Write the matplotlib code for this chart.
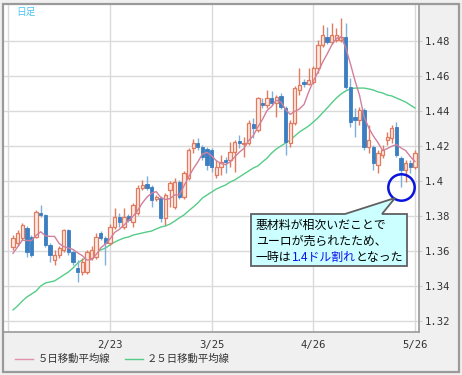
import numpy as np
import matplotlib
matplotlib.use('Agg')
import matplotlib.pyplot as plt
import matplotlib.transforms as mtransforms
from matplotlib.patches import Polygon, Rectangle
from matplotlib.lines import Line2D

W, H = 462, 375
JP = ['Noto Sans CJK JP', 'DejaVu Sans']
MONO = 'DejaVu Sans Mono'

# daily EUR/USD candles
open_ = [1.3623, 1.3646, 1.3674, 1.3731, 1.3680, 1.3680, 1.3817, 1.3806, 1.3634, 1.3549,
         1.3577, 1.3606, 1.3720, 1.3594, 1.3503, 1.3480, 1.3480, 1.3560, 1.3566, 1.3703,
         1.3674, 1.3646, 1.3737, 1.3794, 1.3737, 1.3800, 1.3766, 1.3817, 1.3960, 1.3983,
         1.3966, 1.3897, 1.3903, 1.3789, 1.3949, 1.3851, 1.3994, 1.3909, 1.4017, 1.4189,
         1.4217, 1.4194, 1.4183, 1.4177, 1.4034, 1.4080, 1.4120, 1.4120, 1.4166, 1.4229,
         1.4211, 1.4217, 1.4326, 1.4291, 1.4446, 1.4434, 1.4474, 1.4446, 1.4486, 1.4417,
         1.4217, 1.4331, 1.4520, 1.4566, 1.4554, 1.4566, 1.4646, 1.4777, 1.4823, 1.4794,
         1.4806, 1.4806, 1.4823, 1.4537, 1.4366, 1.4349, 1.4406, 1.4194, 1.4194, 1.4091,
         1.4149, 1.4234, 1.4246, 1.4309, 1.4131, 1.4063, 1.4103, 1.4080]
close = [1.3674, 1.3703, 1.3749, 1.3594, 1.3577, 1.3823, 1.3806, 1.3634, 1.3577, 1.3577,
         1.3617, 1.3720, 1.3594, 1.3537, 1.3480, 1.3537, 1.3594, 1.3606, 1.3680, 1.3674,
         1.3646, 1.3737, 1.3794, 1.3766, 1.3794, 1.3777, 1.3863, 1.3960, 1.3977, 1.3960,
         1.3891, 1.3909, 1.3789, 1.3920, 1.3989, 1.3994, 1.3909, 1.4046, 1.4177, 1.4217,
         1.4194, 1.4137, 1.4091, 1.4080, 1.4080, 1.4109, 1.4109, 1.4166, 1.4223, 1.4217,
         1.4217, 1.4331, 1.4303, 1.4474, 1.4434, 1.4474, 1.4446, 1.4480, 1.4423, 1.4223,
         1.4331, 1.4531, 1.4549, 1.4554, 1.4577, 1.4646, 1.4777, 1.4834, 1.4794, 1.4834,
         1.4834, 1.4823, 1.4537, 1.4337, 1.4349, 1.4406, 1.4194, 1.4234, 1.4103, 1.4160,
         1.4177, 1.4251, 1.4303, 1.4149, 1.4063, 1.4103, 1.4080, 1.4160]
high = [1.3691, 1.3720, 1.3760, 1.3743, 1.3691, 1.3834, 1.3863, 1.3811, 1.3646, 1.3606,
        1.3629, 1.3726, 1.3726, 1.3606, 1.3549, 1.3560, 1.3606, 1.3629, 1.3703, 1.3714,
        1.3686, 1.3754, 1.3846, 1.3817, 1.3846, 1.3811, 1.3874, 1.3977, 1.4006, 1.4029,
        1.3977, 1.3920, 1.3914, 1.3931, 1.4000, 1.4017, 1.4006, 1.4057, 1.4189, 1.4240,
        1.4246, 1.4206, 1.4194, 1.4189, 1.4120, 1.4149, 1.4137, 1.4223, 1.4234, 1.4263,
        1.4251, 1.4349, 1.4360, 1.4480, 1.4474, 1.4520, 1.4514, 1.4491, 1.4503, 1.4429,
        1.4349, 1.4543, 1.4646, 1.4583, 1.4646, 1.4657, 1.4806, 1.4891, 1.4880, 1.4903,
        1.4874, 1.4931, 1.4903, 1.4589, 1.4417, 1.4423, 1.4417, 1.4320, 1.4206, 1.4177,
        1.4206, 1.4280, 1.4320, 1.4337, 1.4143, 1.4120, 1.4120, 1.4177]
low = [1.3606, 1.3629, 1.3663, 1.3566, 1.3566, 1.3674, 1.3794, 1.3623, 1.3537, 1.3520,
       1.3560, 1.3594, 1.3577, 1.3520, 1.3423, 1.3463, 1.3469, 1.3549, 1.3554, 1.3663,
       1.3520, 1.3634, 1.3726, 1.3737, 1.3726, 1.3766, 1.3737, 1.3806, 1.3949, 1.3949,
       1.3851, 1.3886, 1.3766, 1.3749, 1.3851, 1.3840, 1.3897, 1.3897, 1.4006, 1.4160,
       1.4177, 1.4120, 1.4063, 1.4051, 1.4017, 1.4034, 1.4046, 1.4080, 1.4051, 1.4189,
       1.4137, 1.4206, 1.4246, 1.4280, 1.4417, 1.4417, 1.4434, 1.4366, 1.4411, 1.4149,
       1.4194, 1.4320, 1.4491, 1.4537, 1.4549, 1.4554, 1.4617, 1.4766, 1.4783, 1.4783,
       1.4794, 1.4794, 1.4526, 1.4309, 1.4251, 1.4320, 1.4177, 1.4160, 1.4063, 1.4046,
       1.4131, 1.4206, 1.4217, 1.4137, 1.3966, 1.3994, 1.4046, 1.4069]
# closes just before the window (needed for the first 5-day averages)
pre_close = [1.352, 1.356, 1.360, 1.358]
# 25-day moving average
ma25 = [1.3263, 1.3286, 1.3314, 1.3337, 1.3354, 1.3371, 1.3400, 1.3417, 1.3423, 1.3429,
        1.3446, 1.3463, 1.3480, 1.3503, 1.3531, 1.3549, 1.3566, 1.3577, 1.3594, 1.3606,
        1.3617, 1.3634, 1.3651, 1.3663, 1.3674, 1.3680, 1.3691, 1.3697, 1.3703, 1.3709,
        1.3714, 1.3726, 1.3737, 1.3743, 1.3754, 1.3771, 1.3789, 1.3806, 1.3829, 1.3851,
        1.3874, 1.3903, 1.3920, 1.3937, 1.3954, 1.3966, 1.3977, 1.3994, 1.4006, 1.4023,
        1.4040, 1.4057, 1.4074, 1.4086, 1.4109, 1.4131, 1.4160, 1.4183, 1.4200, 1.4217,
        1.4234, 1.4257, 1.4280, 1.4297, 1.4314, 1.4337, 1.4360, 1.4389, 1.4417, 1.4446,
        1.4474, 1.4497, 1.4514, 1.4526, 1.4531, 1.4531, 1.4531, 1.4526, 1.4520, 1.4509,
        1.4503, 1.4491, 1.4486, 1.4474, 1.4463, 1.4451, 1.4434, 1.4417]

date_pos = [21, 43, 65, 87]
date_labels = ['2/23', '3/25', '4/26', '5/26']
yticks = [1.32, 1.34, 1.36, 1.38, 1.40, 1.42, 1.44, 1.46, 1.48]
ylabels = ['1.32', '1.34', '1.36', '1.38', '1.4', '1.42', '1.44', '1.46', '1.48']
low_idx = 84  # the dip below 1.40

o = np.array(open_)
c = np.array(close)
hi = np.array(high)
lo = np.array(low)
x = np.arange(len(c))
up = c >= o
ma5 = np.convolve(np.r_[pre_close, c], np.ones(5) / 5, mode='valid')

UP_EDGE = '#e27a5e'
UP_FILL = '#fde9e2'
DN = '#3b7fc2'
DN_WICK = '#7fb0dc'

fig = plt.figure(figsize=(W / 100, H / 100), dpi=100, facecolor='#f0f0f0')
px = mtransforms.Affine2D().scale(1 / W, -1 / H).translate(0, 1) + fig.transFigure

ax = fig.add_axes([3 / W, 1 - 332 / H, 416 / W, 328 / H])
ax.set_facecolor('white')
ax.set_xlim(-2.16, 87.88)
ax.set_ylim(1.31371, 1.50114)

# grid
for yv in yticks:
    ax.axhline(yv, color='#dadada', lw=1, zorder=0)
for xv in [-1] + date_pos:
    ax.axvline(xv, color='#dadada', lw=1, zorder=0)

# moving averages
ax.plot(x, ma25, color='#55cc88', lw=1, zorder=1)

# wicks
ax.vlines(x[up], lo[up], hi[up], color=UP_EDGE, lw=1, zorder=2)
ax.vlines(x[~up], lo[~up], hi[~up], color=DN_WICK, lw=1, zorder=2)

# bodies
body_lo = np.minimum(o, c)
body_h = np.maximum(np.abs(c - o), 0.0004)
ax.bar(x[up], body_h[up], bottom=body_lo[up], width=0.72,
       color=UP_FILL, edgecolor=UP_EDGE, lw=0.9, zorder=3)
ax.bar(x[~up], body_h[~up], bottom=body_lo[~up], width=0.72,
       color=DN, edgecolor=DN, lw=0.6, zorder=3)

ax.plot(x, ma5, color='#d27f9c', lw=1, zorder=4)

# circle round the low
ax.plot(low_idx, lo[low_idx], 'o', ms=19, mfc='none', mec='#0a14dc', mew=1.8, zorder=6,
        clip_on=False)

for s in ['top', 'left']:
    ax.spines[s].set_visible(False)
for s in ['right', 'bottom']:
    ax.spines[s].set_color('#9a9a9a')
    ax.spines[s].set_linewidth(1.2)

ax.set_xticks(date_pos)
ax.set_xticklabels(date_labels, fontfamily=MONO, fontsize=7.6, color='#333333')
ax.yaxis.tick_right()
ax.set_yticks(yticks)
ax.set_yticklabels(ylabels, fontfamily=MONO, fontsize=7.6, color='#333333')
ax.tick_params(axis='x', length=0, pad=6)
ax.tick_params(axis='y', length=2, color='#cccccc', pad=2)

# outer frame
fig.add_artist(Rectangle((3, 4), 456, 368, transform=px, fill=False,
                         ec='#9a9a9a', lw=1.6))

fig.text(16, 12, '日足', transform=px, family=JP, fontsize=7, color='#4cc4f4',
         va='center', ha='left')

# callout box
box = Polygon([(251, 214), (345, 214), (395, 198), (382, 214), (407, 214),
               (407, 266), (251, 266)], closed=True, transform=px,
              fc='#ccffff', ec='#606060', lw=1.3, zorder=10)
fig.add_artist(box)

fs = 8.6
fig.text(256, 225, '悪材料が相次いだことで', transform=px, family=JP, fontsize=fs,
         color='black', va='center', zorder=11)
fig.text(256, 241, 'ユーロが売られたため、', transform=px, family=JP, fontsize=fs,
         color='black', va='center', zorder=11)
renderer = fig.canvas.get_renderer()
xpos = 256
for part, col in [('一時は', 'black'), ('1.4ドル割れ', '#1010ee'), ('となった', 'black')]:
    t = fig.text(xpos, 257, part, transform=px, family=JP, fontsize=fs,
                 color=col, va='center', zorder=11)
    xpos += t.get_window_extent(renderer=renderer).width

# legend
fig.add_artist(Line2D([15, 33], [359, 359], transform=px, color='#e090a8', lw=1))
fig.text(38, 359, '５日移動平均線', transform=px, family=JP, fontsize=7.5,
         color='#333333', va='center')
fig.add_artist(Line2D([125, 143], [359, 359], transform=px, color='#55cc88', lw=1))
fig.text(147, 359, '２５日移動平均線', transform=px, family=JP, fontsize=7.5,
         color='#333333', va='center')

fig.savefig('out.png', dpi=100, facecolor=fig.get_facecolor())
